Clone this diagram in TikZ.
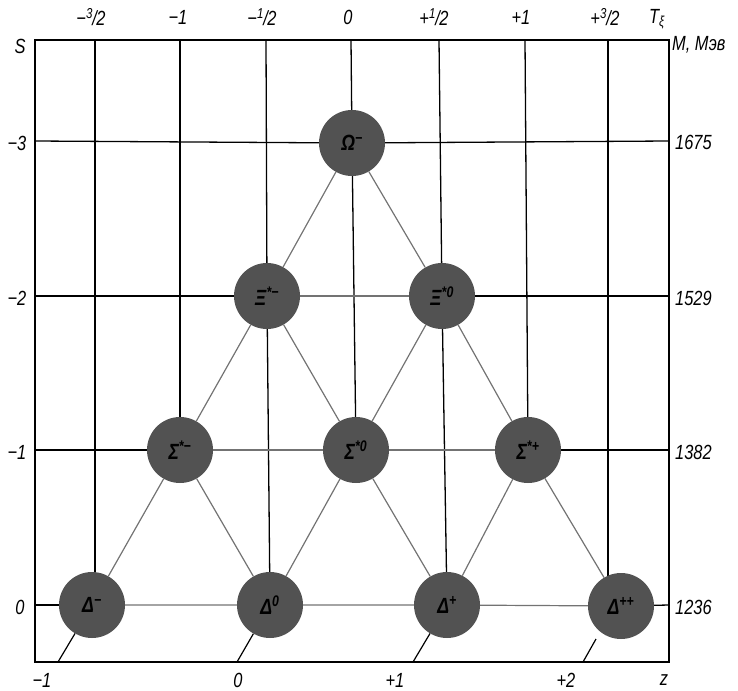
\documentclass[tikz,border=0pt]{standalone}
\usepackage{fontspec}
\setmainfont{Liberation Sans}
\newfontfamily\lblfont[FakeStretch=0.8]{Liberation Sans}
\usetikzlibrary{backgrounds}
\newcommand{\frc}[2]{\textsuperscript{#1}\kern-0.5pt/\kern-0.5pt#2}
\begin{document}
\begin{tikzpicture}[x=1pt,y=-1pt,
  lbl/.style={font=\lblfont\fontsize{20.5}{22}\selectfont\itshape, inner sep=0pt},
  particle/.style={circle, fill=black!68, minimum size=66pt, inner sep=0pt,
    font=\lblfont\fontsize{22}{24}\selectfont\itshape\bfseries, text=black},
  frameline/.style={line width=1.8pt, black},
  gridline/.style={line width=1.3pt, black},
  edge/.style={line width=1.2pt, black!55},
  zline/.style={line width=1.2pt, black}]
\useasboundingbox (0,0) rectangle (738,690);
% particles
\node[particle] (om)  at (352,143) {Ω\textsuperscript{−}};
\node[particle] (xim) at (267,296) {Ξ\textsuperscript{*−}};
\node[particle] (xi0) at (442,296) {Ξ\textsuperscript{*0}};
\node[particle] (sm)  at (180,450) {Σ\textsuperscript{*−}};
\node[particle] (s0)  at (356,450) {Σ\textsuperscript{*0}};
\node[particle] (sp)  at (528,450) {Σ\textsuperscript{*+}};
\node[particle] (dm)  at (92,605)  {Δ\textsuperscript{−}};
\node[particle] (d0)  at (270,605) {Δ\textsuperscript{0}};
\node[particle] (dp)  at (447,605) {Δ\textsuperscript{+}};
\node[particle] (dpp) at (621,606) {Δ\textsuperscript{++}};
% coordinates
\coordinate (t1) at (95,40);  \coordinate (t2) at (180,40);
\coordinate (t3) at (266,40); \coordinate (t4) at (351,40);
\coordinate (t5) at (439,40); \coordinate (t6) at (525,40);
\coordinate (t7) at (608,40);
\coordinate (l3) at (35,141); \coordinate (l2) at (35,296);
\coordinate (l1) at (35,450); \coordinate (l0) at (35,605);
\coordinate (r3) at (669,141); \coordinate (r2) at (669,296);
\coordinate (r1) at (669,450); \coordinate (r0) at (669,605);
\coordinate (zb1) at (58,662);  \coordinate (zb2) at (237,662);
\coordinate (zb3) at (413,662); \coordinate (zb4) at (583,662);
\coordinate (zs4) at (596,639);
\begin{scope}[on background layer]
% frame
\draw[frameline] (35,40) rectangle (669,662);
% vertical grid lines
\draw[gridline] (t1) -- (t1 |- dm.center);
\draw[gridline] (t2) -- (sm.center);
\draw[gridline] (t3) -- (xim.center);
\draw[gridline] (xim) -- (d0);
\draw[gridline] (t4) -- (om.center);
\draw[gridline] (om) -- (s0);
\draw[gridline] (t5) -- (xi0.center);
\draw[gridline] (xi0) -- (dp);
\draw[gridline] (t6) -- (sp.center);
\draw[gridline] (t7) -- (t7 |- dpp.center);
% horizontal grid lines
\draw[gridline] (l3) -- (om.center);
\draw[gridline] (om.center) -- (r3);
\draw[gridline] (l2) -- (xim.center);
\draw[gridline] (xi0.center) -- (r2);
\draw[gridline] (l1) -- (sm.center);
\draw[gridline] (sp.center) -- (r1);
\draw[gridline] (l0) -- (dm.center);
\draw[gridline] (dpp.center) -- (r0);
% multiplet edges
\draw[edge] (xim) -- (xi0);
\draw[edge] (sm) -- (s0) -- (sp);
\draw[edge] (dm) -- (d0) -- (dp) -- (dpp);
\draw[edge] (om) -- (xim) -- (sm) -- (dm);
\draw[edge] (om) -- (xi0) -- (sp) -- (dpp);
\draw[edge] (xim) -- (s0) -- (dp);
\draw[edge] (xi0) -- (s0) -- (d0);
\draw[edge] (sm) -- (d0);
\draw[edge] (sp) -- (dp);
\end{scope}
% charge lines
\draw[zline] (dm) -- (zb1);
\draw[zline] (d0) -- (zb2);
\draw[zline] (dp) -- (zb3);
\draw[zline] (zs4) -- (zb4);
% top labels
\node[lbl] (ta) at (91,17)  {−\frc{3}{2}};
\node[lbl] (tb) at (178,17) {−1};
\node[lbl] (tc) at (262,17) {−\frc{1}{2}};
\node[lbl] (td) at (348,17) {0};
\node[lbl] (te) at (434,17) {+\frc{1}{2}};
\node[lbl] (tf) at (521,17) {+1};
\node[lbl] (tg) at (605,17) {+\frc{3}{2}};
\node[lbl] (th) at (657,19) {T\textsubscript{ξ}};
% left labels
\node[lbl] (sl) at (20,46)  {S};
\node[lbl] (la) at (17,143) {−3};
\node[lbl] (lb) at (17,298) {−2};
\node[lbl] (lc) at (17,452) {−1};
\node[lbl] (ld) at (20,607) {0};
% right labels
\node[lbl, anchor=west] (ml) at (672,45) {M, Мэв};
\node[lbl, anchor=west] (ra) at (675,142) {1675};
\node[lbl, anchor=west] (rb) at (675,298) {1529};
\node[lbl, anchor=west] (rc) at (675,452) {1382};
\node[lbl, anchor=west] (rd) at (675,607) {1236};
% bottom labels
\node[lbl] (ba) at (42,680)  {−1};
\node[lbl] (bb) at (238,680) {0};
\node[lbl] (bc) at (395,680) {+1};
\node[lbl] (bd) at (566,680) {+2};
\node[lbl] (be) at (664,680) {z};
\end{tikzpicture}
\end{document}
